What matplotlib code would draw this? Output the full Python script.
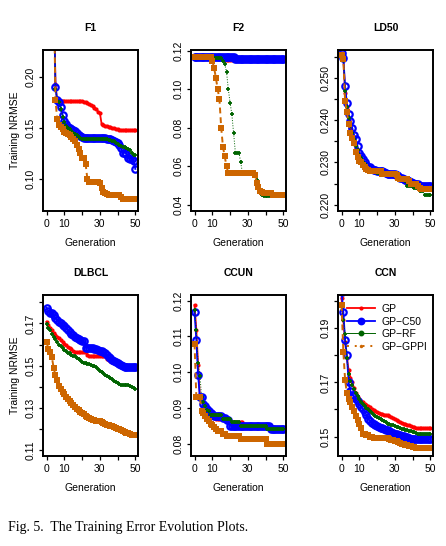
import numpy as np
import matplotlib
matplotlib.use('Agg')
import matplotlib.pyplot as plt

plt.rcParams['font.family'] = 'Liberation Sans'

gens = np.arange(51)

# ---- F1 ----
f1_gp = ([0.30] * 5 + [0.193] + [0.176] * 15 +
         [0.1755, 0.175, 0.174, 0.173, 0.172, 0.171, 0.169, 0.168, 0.166, 0.165,
          0.154, 0.153, 0.152, 0.152, 0.151, 0.151, 0.150, 0.150, 0.149, 0.149] + [0.148] * 10)
f1_c50 = ([0.30] * 5 + [0.190, 0.177, 0.175, 0.170, 0.163,
          0.157, 0.154, 0.151, 0.150, 0.149, 0.148, 0.147, 0.145, 0.143, 0.142] + [0.141] + [0.140] * 13 +
          [0.139, 0.139, 0.139, 0.138, 0.137, 0.136,
           0.135, 0.133, 0.130, 0.126, 0.126, 0.125, 0.121, 0.120, 0.120, 0.118, 0.110])
f1_rf = ([0.30] * 5 + [0.188, 0.176, 0.175, 0.168, 0.161,
         0.156, 0.152, 0.150, 0.149, 0.147, 0.145, 0.144, 0.143, 0.141, 0.140] + [0.139] * 15 +
         [0.138, 0.138, 0.137, 0.137, 0.135,
          0.134, 0.133, 0.132, 0.131, 0.131, 0.130, 0.129, 0.128, 0.126, 0.124, 0.124])
f1_gppi = ([0.30] * 5 + [0.177, 0.159, 0.153, 0.151, 0.149,
           0.146, 0.145, 0.144, 0.143, 0.141, 0.139, 0.137, 0.133, 0.129, 0.126,
           0.121, 0.121, 0.115, 0.100] + [0.097] * 6 +
           [0.096, 0.091, 0.088, 0.087, 0.086] + [0.085] * 7 + [0.083] + [0.081] * 8)

# ---- F2 ----
f2_gp = [0.1163] * 17 + [0.1150] * 5 + [0.1155] * 29
f2_c50 = [0.1165] * 23 + [0.1155] * 28
f2_rf = ([0.1163] * 10 + [0.1160] * 6 +
         [0.1148, 0.1130, 0.1090, 0.1000, 0.0930, 0.0870, 0.0770, 0.0670, 0.0670, 0.0670, 0.0620] +
         [0.0562] * 8 + [0.0530, 0.0500, 0.0470, 0.0450] + [0.0447] * 12)
f2_gppi = ([0.1169] * 10 +
           [0.1147, 0.1110, 0.1060, 0.1000, 0.0950, 0.0800, 0.0700, 0.0650, 0.0600] +
           [0.0562] * 15 + [0.0555, 0.0510, 0.0490, 0.0470, 0.0465] + [0.0460] * 5 + [0.0452] * 7)

# ---- LD50 ----
ld_gp = [0.2558, 0.2550, 0.2465, 0.2430, 0.2400, 0.2382, 0.2368, 0.2352, 0.2335, 0.2322,
         0.2310, 0.2305, 0.2298, 0.2292, 0.2288, 0.2284, 0.2282, 0.2280, 0.2280, 0.2280,
         0.2280, 0.2278, 0.2276, 0.2274, 0.2272, 0.2272, 0.2270, 0.2270, 0.2270, 0.2268,
         0.2266, 0.2264, 0.2262, 0.2260, 0.2258, 0.2256, 0.2254, 0.2252, 0.2250, 0.2250,
         0.2248, 0.2246, 0.2245, 0.2244, 0.2243, 0.2242, 0.2241, 0.2240, 0.2240, 0.2240, 0.2240]
ld_c50 = [0.2560, 0.2548, 0.2480, 0.2440, 0.2415, 0.2398, 0.2382, 0.2365, 0.2355, 0.2338,
          0.2322, 0.2315, 0.2308, 0.2300, 0.2295, 0.2290, 0.2288, 0.2285, 0.2283, 0.2282,
          0.2280, 0.2280, 0.2280, 0.2280, 0.2277, 0.2275, 0.2273, 0.2272, 0.2272, 0.2272,
          0.2272, 0.2270, 0.2268, 0.2262, 0.2262, 0.2260, 0.2258, 0.2258, 0.2256, 0.2254,
          0.2252, 0.2250, 0.2250, 0.2248, 0.2245, 0.2243, 0.2243, 0.2243, 0.2243, 0.2243, 0.2243]
ld_rf = [0.2555, 0.2548, 0.2470, 0.2430, 0.2405, 0.2385, 0.2370, 0.2355, 0.2340, 0.2330,
         0.2318, 0.2310, 0.2302, 0.2296, 0.2290, 0.2286, 0.2283, 0.2281, 0.2279, 0.2278,
         0.2276, 0.2275, 0.2273, 0.2272, 0.2270, 0.2270, 0.2270, 0.2270, 0.2270, 0.2270,
         0.2268, 0.2265, 0.2262, 0.2260, 0.2260, 0.2260, 0.2255, 0.2245, 0.2245, 0.2245,
         0.2245, 0.2240, 0.2240, 0.2240, 0.2232, 0.2232, 0.2232, 0.2222, 0.2222, 0.2222, 0.2222]
ld_gppi = [0.2555, 0.2545, 0.2445, 0.2420, 0.2390, 0.2370, 0.2358, 0.2345, 0.2325, 0.2312,
           0.2303, 0.2300, 0.2295, 0.2289, 0.2285, 0.2282, 0.2280, 0.2280, 0.2280, 0.2280,
           0.2280, 0.2280, 0.2280, 0.2272, 0.2272, 0.2272, 0.2272, 0.2272, 0.2272, 0.2272,
           0.2272, 0.2270, 0.2262, 0.2260, 0.2260, 0.2260, 0.2260, 0.2260, 0.2255, 0.2250,
           0.2250, 0.2250, 0.2250, 0.2245, 0.2240, 0.2236, 0.2236, 0.2236, 0.2236, 0.2236, 0.2236]

# ---- DLBCL ----
dl_gp = [0.1708, 0.1692, 0.1680, 0.1668, 0.1655, 0.1645, 0.1638, 0.1630, 0.1622, 0.1612,
         0.1603, 0.1597, 0.1590, 0.1585, 0.1578, 0.1570, 0.1566, 0.1563, 0.1563, 0.1563,
         0.1563, 0.1563, 0.1563, 0.1550] + [0.1547] * 10 + \
        [0.1531, 0.1527, 0.1523, 0.1519, 0.1516, 0.1513, 0.1510, 0.1508, 0.1506, 0.1504,
         0.1503, 0.1502, 0.1500, 0.1498, 0.1496, 0.1495, 0.1495]
dl_c50 = [0.1774, 0.1760, 0.1750, 0.1747, 0.1739, 0.1725, 0.1715, 0.1708, 0.1700, 0.1693,
          0.1688, 0.1678, 0.1668, 0.1660, 0.1650, 0.1643, 0.1638, 0.1632, 0.1627, 0.1622,
          0.1618, 0.1616] + [0.1585] * 5 + \
         [0.1580, 0.1578, 0.1575, 0.1572, 0.1568, 0.1563, 0.1558, 0.1550, 0.1542, 0.1535,
          0.1528, 0.1522, 0.1518, 0.1512, 0.1508, 0.1503, 0.1498, 0.1495] + [0.1492] * 6
dl_rf = [0.1695, 0.1680, 0.1668, 0.1652, 0.1638, 0.1625, 0.1610, 0.1600, 0.1592, 0.1582,
         0.1574, 0.1568, 0.1562, 0.1558, 0.1553, 0.1548, 0.1544, 0.1538, 0.1532, 0.1525,
         0.1519, 0.1515, 0.1512, 0.1509, 0.1506, 0.1503, 0.1500, 0.1497, 0.1494, 0.1485,
         0.1477, 0.1470, 0.1465, 0.1458, 0.1452, 0.1448, 0.1442, 0.1436, 0.1428, 0.1424,
         0.1420, 0.1415, 0.1411, 0.1408, 0.1408, 0.1408, 0.1408, 0.1405, 0.1400, 0.1395, 0.1389]
dl_gppi = [0.1613, 0.1580, 0.1565, 0.1540, 0.1490, 0.1455, 0.1435, 0.1405, 0.1390, 0.1378,
           0.1365, 0.1353, 0.1343, 0.1333, 0.1323, 0.1313, 0.1305, 0.1298, 0.1292, 0.1284,
           0.1277, 0.1271, 0.1265, 0.1259, 0.1254, 0.1250, 0.1246, 0.1243, 0.1241, 0.1239,
           0.1237, 0.1235, 0.1230, 0.1226, 0.1222, 0.1219, 0.1216, 0.1214, 0.1210, 0.1207,
           0.1203, 0.1200, 0.1196, 0.1192, 0.1188, 0.1184, 0.1181, 0.1178, 0.1175, 0.1173, 0.1172]

# ---- CCUN ----
cu_gp = ([0.1188, 0.1118, 0.1020, 0.0931, 0.0925, 0.0917, 0.0910, 0.0903, 0.0897, 0.0892,
          0.0889, 0.0875, 0.0870] + [0.0868] * 5 + [0.0865, 0.0862, 0.0859] + [0.0860] * 7 +
         [0.0850] * 13 + [0.0843] + [0.0840] * 9)
cu_c50 = ([0.1169, 0.1090, 0.0992, 0.0930, 0.0930, 0.0912, 0.0905, 0.0897, 0.0890, 0.0885,
           0.0882] + [0.0878] * 5 + [0.0872] * 2 + [0.0865] * 2 + [0.0850] * 23 + [0.0840] * 8)
cu_rf = ([0.1175, 0.1118, 0.1025, 0.0990, 0.0930, 0.0915, 0.0905, 0.0895, 0.0890] +
         [0.0880] * 7 + [0.0870] * 5 + [0.0860] * 5 + [0.0850] * 15 + [0.0840] * 10)
cu_gppi = ([0.1080, 0.0930, 0.0930, 0.0930, 0.0890, 0.0885, 0.0878, 0.0870, 0.0862, 0.0855,
            0.0851, 0.0845, 0.0840, 0.0835, 0.0835, 0.0835, 0.0828, 0.0828] +
           [0.0820] * 8 + [0.0812] * 15 + [0.0800] * 10)

# ---- CCN ----
cn_gp = [0.2011, 0.1930, 0.1851, 0.1790, 0.1745, 0.1718, 0.1700, 0.1680, 0.1660, 0.1645,
         0.1638, 0.1632, 0.1628, 0.1622, 0.1617, 0.1613, 0.1608, 0.1602, 0.1597, 0.1594,
         0.1590, 0.1587, 0.1585, 0.1583, 0.1581, 0.1580, 0.1579, 0.1575, 0.1571, 0.1568,
         0.1565, 0.1561, 0.1557, 0.1554, 0.1551, 0.1548, 0.1546, 0.1544, 0.1541, 0.1538,
         0.1536, 0.1534, 0.1532] + [0.1530] * 8
cn_c50 = [0.2035, 0.1962, 0.1855, 0.1800, 0.1700, 0.1668, 0.1655, 0.1648, 0.1638, 0.1630,
          0.1620, 0.1610, 0.1602, 0.1591, 0.1580, 0.1565, 0.1558, 0.1550, 0.1545, 0.1541,
          0.1538, 0.1535, 0.1532, 0.1530, 0.1527, 0.1525, 0.1523, 0.1520, 0.1516, 0.1512,
          0.1510, 0.1508, 0.1506, 0.1505, 0.1503, 0.1501, 0.1500, 0.1499, 0.1496, 0.1492] + [0.1490] * 11
cn_rf = [0.1986, 0.1930, 0.1880, 0.1790, 0.1730, 0.1705, 0.1690, 0.1675, 0.1660, 0.1648,
         0.1637, 0.1628, 0.1620, 0.1613, 0.1607, 0.1601, 0.1594, 0.1586, 0.1580, 0.1576,
         0.1572, 0.1568, 0.1564, 0.1560, 0.1556, 0.1552, 0.1548, 0.1546, 0.1544, 0.1541,
         0.1539, 0.1536, 0.1534, 0.1532, 0.1529, 0.1527, 0.1525, 0.1523, 0.1521, 0.1519,
         0.1517, 0.1515, 0.1513] + [0.1511] * 8
cn_gppi = [0.1986, 0.1814, 0.1709, 0.1659, 0.1640, 0.1628, 0.1610, 0.1595, 0.1575, 0.1560,
           0.1548, 0.1530, 0.1511, 0.1508, 0.1506, 0.1504, 0.1500, 0.1497, 0.1495] + [0.1493] * 8 + \
          [0.1490, 0.1488, 0.1486, 0.1485, 0.1483, 0.1480, 0.1477, 0.1474, 0.1471, 0.1469,
           0.1468, 0.1466, 0.1464, 0.1462, 0.1460, 0.1459] + [0.1458] * 8

titles = ['F1', 'F2', 'LD50', 'DLBCL', 'CCUN', 'CCN']
series = [(f1_gp, f1_c50, f1_rf, f1_gppi), (f2_gp, f2_c50, f2_rf, f2_gppi),
          (ld_gp, ld_c50, ld_rf, ld_gppi), (dl_gp, dl_c50, dl_rf, dl_gppi),
          (cu_gp, cu_c50, cu_rf, cu_gppi), (cn_gp, cn_c50, cn_rf, cn_gppi)]
ylims = [(0.069, 0.226), (0.0367, 0.1203), (0.2185, 0.2566),
         (0.1074, 0.1834), (0.0765, 0.1216), (0.1428, 0.2023)]
yticks = [[0.10, 0.15, 0.20],
          [0.04, 0.06, 0.08, 0.10, 0.12],
          [0.220, 0.225, 0.230, 0.235, 0.240, 0.245, 0.250, 0.255],
          [0.11, 0.12, 0.13, 0.14, 0.15, 0.16, 0.17, 0.18],
          [0.08, 0.09, 0.10, 0.11, 0.12],
          [0.15, 0.16, 0.17, 0.18, 0.19, 0.20]]
ylabels = [['0.10', '0.15', '0.20'],
           ['0.04', '0.06', '0.08', '0.10', '0.12'],
           ['0.220', '', '0.230', '', '0.240', '', '0.250', ''],
           ['0.11', '', '0.13', '', '0.15', '', '0.17', ''],
           ['0.08', '0.09', '0.10', '0.11', '0.12'],
           ['0.15', '', '0.17', '', '0.19', '']]
xticks = [0, 10, 20, 30, 40, 50]
xlabels = ['0', '10', '', '30', '', '50']
names = ['GP', 'GP\u2212C50', 'GP\u2212RF', 'GP\u2212GPPI']

styles = [dict(color='#FF0000', lw=1.3, marker='o', ms=3.0, mew=0),
          dict(color='#0000FF', lw=1.3, marker='o', ms=4.6, mfc='none', mew=1.6),
          dict(color='#006400', lw=0.7, ls=':', marker='+', ms=3.4, mew=1.3),
          dict(color='#CD6600', lw=1.4, ls=(0, (3, 2)), marker='s', ms=4.2, mew=0)]

W, H = 446, 546
fig = plt.figure(figsize=(W / 100, H / 100), dpi=100)
lefts = [43, 191, 338]
tops = [50, 295]
pw, ph = 95, 161

for i, title in enumerate(titles):
    r, c = divmod(i, 3)
    ax = fig.add_axes([lefts[c] / W, (H - tops[r] - ph) / H, pw / W, ph / H])
    for s, st in zip(series[i], styles):
        ax.plot(gens, s, clip_on=True, **st)
    ax.set_xlim(-2, 51.5)
    ax.set_ylim(*ylims[i])
    ax.set_xticks(xticks)
    ax.set_xticklabels(xlabels)
    ax.set_yticks(yticks[i])
    ax.set_yticklabels(ylabels[i], rotation=90, va='center')
    ax.tick_params(direction='out', length=3, width=0.9, labelsize=7.5, pad=2)
    ax.tick_params(axis='x', pad=3)
    for sp in ax.spines.values():
        sp.set_linewidth(1.4)
    ax.set_title(title, fontsize=7.5, fontweight='bold', pad=14)
    ax.set_xlabel('Generation', fontsize=7.5, labelpad=6)
    if c == 0:
        ax.set_ylabel('Training NRMSE', fontsize=7.5, labelpad=4)
    if title == 'CCN':
        handles = []
        for st, nm in zip(styles, names):
            st2 = dict(st)
            if nm == 'GP\u2212GPPI':
                st2.update(marker='o', ms=2.5, ls=(0, (1, 3)))
            if nm == 'GP\u2212C50':
                st2.update(mfc='#0000FF', ms=4)
            if nm == 'GP\u2212RF':
                st2.update(marker='o', mfc='#006400', ms=3.2, ls='-', mew=1)
            h, = ax.plot([], [], **st2)
            handles.append(h)
        ax.legend(handles, names, loc='upper right', frameon=False, fontsize=7.5,
                  handlelength=2.6, handletextpad=0.7, labelspacing=0.25,
                  borderaxespad=0.3, bbox_to_anchor=(1.02, 0.99))

fig.text(8 / W, 1 - 527 / H, 'Fig. 5.  The Training Error Evolution Plots.',
         family='Liberation Serif', fontsize=10, va='center', ha='left')

fig.savefig('out.png', dpi=100)
